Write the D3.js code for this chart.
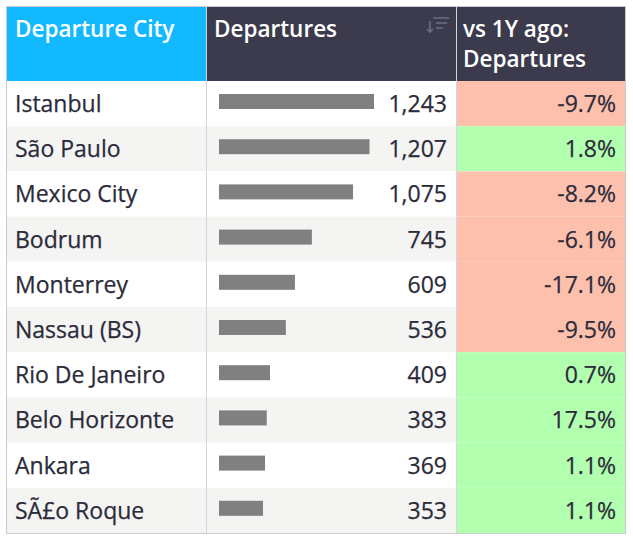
<!DOCTYPE html>
<html>
<head>
<meta charset="utf-8">
<script src="https://cdn.jsdelivr.net/npm/d3@7"></script>
<style>
  body { margin: 0; background: #fff; }
  text { font-family: "Open Sans", sans-serif; }
  .cell { font-size: 23px; fill: #2b2b3a; stroke: #2b2b3a; stroke-width: 0.25px; }
  .head { font-size: 22.5px; font-weight: 600; fill: #fff; }
</style>
</head>
<body>
<div id="table"></div>
<script>
// Data
var cities = ["Istanbul", "São Paulo", "Mexico City", "Bodrum", "Monterrey",
  "Nassau (BS)", "Rio De Janeiro", "Belo Horizonte", "Ankara", "SÃ£o Roque"]
var departures = [1243, 1207, 1075, 745, 609, 536, 409, 383, 369, 353]
var change = [-9.7, 1.8, -8.2, -6.1, -17.1, -9.5, 0.7, 17.5, 1.1, 1.1]
var headers = ["Departure City", "Departures", ["vs 1Y ago:", "Departures"]]

var rows = cities.map((c, i) => ({city: c, dep: departures[i], chg: change[i]}))

var width = 633, height = 542
// column edges
var cols = [7, 206, 456, 625]
var headTop = 7, headBottom = 81, tableBottom = 533

var svg = d3.select("#table")
  .append("svg")
  .attr("width", width)
  .attr("height", height)

// Row scale
var y = d3.scaleBand()
  .domain(cities)
  .range([headBottom, tableBottom])

// Bar scale
var x = d3.scaleLinear()
  .domain([0, d3.max(departures)])
  .range([219, 374])

// plain hyphen for negatives
var locale = d3.formatLocale({decimal: ".", thousands: ",", grouping: [3], currency: ["$", ""], minus: "-"})
var fmtNum = locale.format(",")
var fmtPct = locale.format(".1f")

// Header backgrounds
svg.append("rect")
  .attr("x", cols[0]).attr("y", headTop)
  .attr("width", cols[1] - cols[0]).attr("height", headBottom - headTop)
  .style("fill", "#13b9ff")
svg.append("rect")
  .attr("x", cols[1]).attr("y", headTop)
  .attr("width", cols[3] - cols[1]).attr("height", headBottom - headTop)
  .style("fill", "#3c3b4e")

// Row backgrounds
var row = svg.append("g")
  .selectAll("g")
  .data(rows)
  .enter()
  .append("g")
  .attr("transform", d => "translate(0," + y(d.city) + ")")

row.append("rect")
  .attr("x", cols[0])
  .attr("width", cols[2] - cols[0])
  .attr("height", y.bandwidth())
  .style("fill", (d, i) => i % 2 ? "#f4f4f3" : "#ffffff")

// change cells
row.append("rect")
  .attr("x", cols[2])
  .attr("width", cols[3] - cols[2])
  .attr("height", y.bandwidth())
  .style("fill", d => d.chg < 0 ? "#fdc0ad" : "#b3ffb0")

// City names
row.append("text")
  .attr("class", "cell")
  .attr("x", 15)
  .attr("y", 31)
  .text(d => d.city)

// Bars
row.append("rect")
  .attr("x", x(0))
  .attr("y", 13)
  .attr("width", d => x(d.dep) - x(0))
  .attr("height", 15)
  .style("fill", "#808080")

// Values
row.append("text")
  .attr("class", "cell")
  .attr("x", 447)
  .attr("y", 31)
  .attr("text-anchor", "end")
  .text(d => fmtNum(d.dep))

// Percent change
row.append("text")
  .attr("class", "cell")
  .attr("x", 616)
  .attr("y", 31)
  .attr("text-anchor", "end")
  .text(d => fmtPct(d.chg) + "%")

// Header text
svg.append("text")
  .attr("class", "head")
  .attr("x", 15).attr("y", 37)
  .text(headers[0])
svg.append("text")
  .attr("class", "head")
  .attr("x", 214).attr("y", 37)
  .text(headers[1])
svg.append("text")
  .attr("class", "head")
  .attr("x", 463).attr("y", 37)
  .selectAll("tspan")
  .data(headers[2])
  .enter()
  .append("tspan")
  .attr("x", 463)
  .attr("dy", (d, i) => i ? 30 : 0)
  .text(d => d)

// Sort icon
var icon = svg.append("g")
  .attr("transform", "translate(426,17)")
  .style("stroke", "#6e6d80")
  .style("stroke-width", 1.6)
  .style("fill", "none")
icon.append("path").attr("d", "M4,4V15M1,12L4,15L7,12")
icon.append("path").attr("d", "M7,1H23M10,6H21M10,11H17")

// Grid lines
svg.append("g")
  .selectAll("line")
  .data(cols.slice(1, 3))
  .enter()
  .append("line")
  .attr("x1", d => d + 0.5).attr("x2", d => d + 0.5)
  .attr("y1", headTop).attr("y2", tableBottom)
  .style("stroke", "#d5d5dd")
  .style("stroke-width", 1)

svg.append("rect")
  .attr("x", cols[0] - 0.5).attr("y", headTop - 0.5)
  .attr("width", cols[3] - cols[0] + 1).attr("height", tableBottom - headTop + 1)
  .style("fill", "none")
  .style("stroke", "#c9c9d2")
</script>
</body>
</html>
